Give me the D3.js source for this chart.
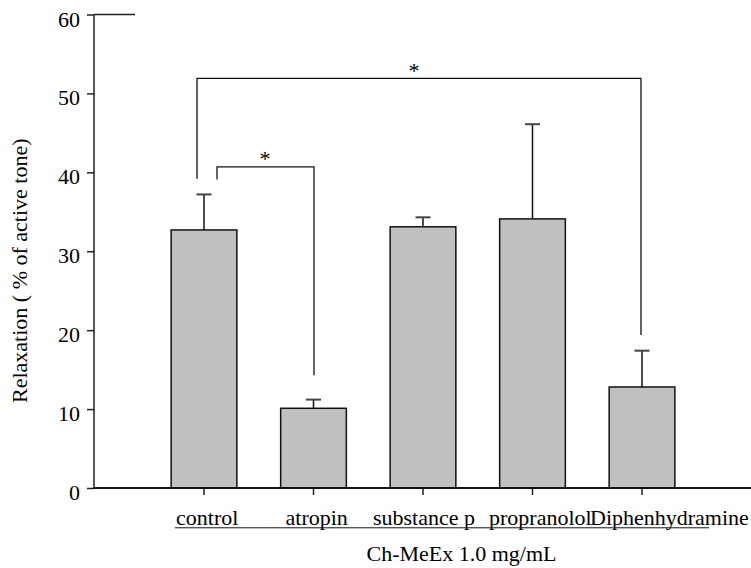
<!DOCTYPE html>
<html>
<head>
<meta charset="utf-8">
<script src="https://cdn.jsdelivr.net/npm/d3@7"></script>
<style>
  html, body { margin: 0; padding: 0; background: #fff; }
  svg { display: block; }
</style>
</head>
<body>
<svg id="chart" width="751" height="568"></svg>
<script>
// ---- data ----
const categories = ["control", "atropin", "substance p", "propranolol", "Diphenhydramine"];
const means = [32.7, 10.1, 33.1, 34.1, 12.8];
const errors = [4.5, 1.1, 1.2, 12.0, 4.6];
const yTicks = [0, 10, 20, 30, 40, 50, 60];
const yLabel = "Relaxation ( % of active tone)";
const xLabel = "Ch-MeEx 1.0 mg/mL";
// significance brackets
const brackets = [
  { from: "control", to: "Diphenhydramine", top: 51.9, leftEnd: 39.2, rightEnd: 19.4, label: "*" },
  { from: "control", to: "atropin", top: 40.7, leftEnd: 39.1, rightEnd: 14.3, label: "*" }
];

// ---- layout ----
const FONT = "'Liberation Serif', 'Times New Roman', Times, 'DejaVu Serif', serif";
const svg = d3.select("#chart").attr("font-family", FONT);
const FS = 22;
const axisX = 94, axisY = 488;

const y = d3.scaleLinear().domain([0, 60]).range([488, 14.5]);
const x = d3.scaleBand().domain(categories).range([149.25, 696.75]).paddingInner(0.4).paddingOuter(0.2);
const cx = c => x(c) + x.bandwidth() / 2;

function txt(sel) {
  return sel.attr("font-family", FONT).attr("font-size", FS).attr("fill", "#000");
}

// bars
svg.append("g").selectAll("rect").data(categories).join("rect")
  .attr("x", c => x(c))
  .attr("y", (c, i) => y(means[i]))
  .attr("width", x.bandwidth())
  .attr("height", (c, i) => y(0) - y(means[i]))
  .attr("fill", "#c0c0c0")
  .attr("stroke", "#111")
  .attr("stroke-width", 1.5);

// error bars
const eg = svg.append("g");
eg.selectAll("line.v").data(categories).join("line").attr("class", "v")
  .attr("x1", c => cx(c)).attr("x2", c => cx(c))
  .attr("y1", (c, i) => y(means[i])).attr("y2", (c, i) => y(means[i] + errors[i]))
  .attr("stroke", "#111").attr("stroke-width", 1.5);
eg.selectAll("line.cap").data(categories).join("line").attr("class", "cap")
  .attr("x1", c => cx(c) - 7.5).attr("x2", c => cx(c) + 7.5)
  .attr("y1", (c, i) => y(means[i] + errors[i])).attr("y2", (c, i) => y(means[i] + errors[i]))
  .attr("stroke", "#444").attr("stroke-width", 2);

// y axis
const yAxis = d3.axisLeft(y).tickValues(yTicks).tickSize(7).tickFormat("");
const gy = svg.append("g").attr("transform", `translate(${axisX},0)`).call(yAxis);
gy.select(".domain").remove();
gy.selectAll(".tick line").attr("stroke", "#222").attr("stroke-width", 1.5);
svg.append("line").attr("x1", axisX).attr("x2", axisX).attr("y1", y(60)).attr("y2", y(0))
  .attr("stroke", "#222").attr("stroke-width", 1.5);
svg.append("line").attr("x1", axisX).attr("x2", 135).attr("y1", y(60)).attr("y2", y(60))
  .attr("stroke", "#222").attr("stroke-width", 1.5);
svg.append("g").selectAll("text").data(yTicks).join("text")
  .call(txt)
  .attr("x", 80)
  .attr("y", d => y(d) + 12)
  .attr("text-anchor", "end")
  .text(d => d);

// x axis
const xAxis = d3.axisBottom(x).tickSize(7).tickFormat("");
const gx = svg.append("g").attr("transform", `translate(0,${axisY})`).call(xAxis);
gx.select(".domain").remove();
gx.selectAll(".tick line").attr("stroke", "#222").attr("stroke-width", 1.5);
svg.append("line").attr("x1", axisX - 1).attr("x2", 751).attr("y1", axisY).attr("y2", axisY)
  .attr("stroke", "#111").attr("stroke-width", 2.2);

// category labels (left-aligned as in the reference)
const labelDx = [-28, -28, -50, -43.5, -52];
svg.append("g").selectAll("text").data(categories).join("text")
  .call(txt)
  .attr("x", (c, i) => cx(c) + labelDx[i])
  .attr("y", 525)
  .text(c => c);
svg.append("line").attr("x1", 175).attr("x2", 709).attr("y1", 527.8).attr("y2", 527.8)
  .attr("stroke", "#111").attr("stroke-width", 1);

// axis titles
svg.append("text").call(txt)
  .attr("x", 461.5).attr("y", 561)
  .attr("text-anchor", "middle").text(xLabel);
svg.append("text").call(txt)
  .attr("transform", `translate(27,403) rotate(-90)`)
  .attr("text-anchor", "start").text(yLabel);

// significance brackets
const bx = [
  { l: cx("control") - 7, r: cx("Diphenhydramine") - 1, sx: 414 },
  { l: cx("control") + 13, r: cx("atropin") + 0.5, sx: 265 }
];
brackets.forEach((b, i) => {
  const p = bx[i];
  svg.append("path")
    .attr("d", `M${p.l},${y(b.leftEnd)} V${y(b.top)} H${p.r} V${y(b.rightEnd)}`)
    .attr("fill", "none").attr("stroke", "#111").attr("stroke-width", 1.3);
  svg.append("text").call(txt)
    .attr("x", p.sx).attr("y", y(b.top) - 0.7)
    .attr("text-anchor", "middle").text(b.label);
});
</script>
</body>
</html>
